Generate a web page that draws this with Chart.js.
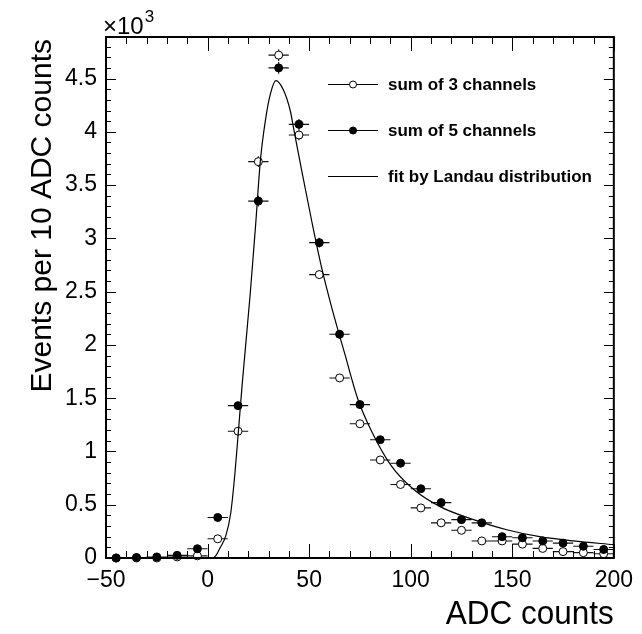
<!DOCTYPE html>
<html>
<head>
<meta charset="utf-8">
<script src="https://cdn.jsdelivr.net/npm/chart.js@4/dist/chart.umd.min.js"></script>
<style>
  html, body { margin: 0; padding: 0; background: #fff; }
  #wrap { width: 642px; height: 634px; }
</style>
</head>
<body>
<div id="wrap"><canvas id="chart" width="642" height="634"></canvas></div>
<script>
// bin centres (ADC counts), bin width 10
const binCenters = [-45, -35, -25, -15, -5, 5, 15, 25, 35, 45, 55, 65, 75, 85, 95,
  105, 115, 125, 135, 145, 155, 165, 175, 185, 195];
const binHalfWidth = 5;

// events per bin, in units of 10^3
const sum3 = [0.0, 0.0, 0.0, 0.01, 0.02, 0.18, 1.19, 3.72, 4.72, 3.97, 2.66, 1.69, 1.26,
  0.92, 0.69, 0.47, 0.33, 0.26, 0.16, 0.16, 0.13, 0.09, 0.06, 0.05, 0.04];
const sum5 = [0.0, 0.005, 0.01, 0.025, 0.087, 0.38, 1.43, 3.35, 4.60, 4.07, 2.96, 2.10, 1.44,
  1.11, 0.89, 0.65, 0.52, 0.36, 0.33, 0.20, 0.19, 0.16, 0.14, 0.11, 0.08];
const sum3Err = [0, 0, 0, 0.01, 0.01, 0.015, 0.035, 0.05, 0.055, 0.05, 0.04, 0.035, 0.03,
  0.03, 0.025, 0.02, 0.02, 0.015, 0.015, 0.015, 0.01, 0.01, 0.01, 0.01, 0.01];
const sum5Err = [0, 0.005, 0.01, 0.01, 0.01, 0.02, 0.035, 0.05, 0.055, 0.05, 0.045, 0.04, 0.035,
  0.03, 0.03, 0.025, 0.02, 0.02, 0.02, 0.015, 0.015, 0.01, 0.01, 0.01, 0.01];

// Landau fit curve
const fitX = [0, 2, 4, 6, 9, 11.4, 13.5, 15.1, 17, 21, 23.6, 26, 28.5, 31, 33.6, 37.4, 40.7,
  42.3, 46.3, 51.2, 56.1, 61, 67.5, 74, 80.5, 90.3, 101.7, 114.7, 131, 147.3, 163.5, 180, 200];
const fitY = [0, 0, 0.02, 0.09, 0.21, 0.42, 0.80, 1.17, 1.62, 2.48, 3.11, 3.73, 4.11, 4.36, 4.48,
  4.39, 4.20, 4.04, 3.64, 3.17, 2.73, 2.36, 1.92, 1.49, 1.20, 0.87, 0.64, 0.48, 0.36, 0.265,
  0.20, 0.16, 0.125];

const xTicks = [-50, 0, 50, 100, 150, 200];
const yTicks = [0, 0.5, 1, 1.5, 2, 2.5, 3, 3.5, 4, 4.5];

const legendLabels = ['sum of 3 channels', 'sum of 5 channels', 'fit by Landau distribution'];
const yTitle = 'Events per 10 ADC counts';
const xTitle = 'ADC counts';

const FONT = "'Liberation Sans', Arial, Helvetica, sans-serif";

const toPoints = (xs, ys) => xs.map((x, i) => ({ x: x, y: ys[i] }));

const errorBars = {
  id: 'errorBars',
  beforeDatasetsDraw(chart) {
    const ctx = chart.ctx;
    const xs = chart.scales.x, ys = chart.scales.y;
    const sets = [[sum5, sum5Err], [sum3, sum3Err]];
    ctx.save();
    ctx.strokeStyle = '#111';
    ctx.lineWidth = 1.1;
    sets.forEach(([vals, errs]) => {
      binCenters.forEach((c, i) => {
        const py = ys.getPixelForValue(vals[i]);
        const px = xs.getPixelForValue(c);
        ctx.beginPath();
        ctx.moveTo(xs.getPixelForValue(c - binHalfWidth), py);
        ctx.lineTo(xs.getPixelForValue(c + binHalfWidth), py);
        ctx.moveTo(px, ys.getPixelForValue(vals[i] - errs[i]));
        ctx.lineTo(px, ys.getPixelForValue(vals[i] + errs[i]));
        ctx.stroke();
      });
    });
    ctx.restore();
  }
};

const rootFrame = {
  id: 'rootFrame',
  afterDraw(chart) {
    const ctx = chart.ctx;
    const a = chart.chartArea;
    const xs = chart.scales.x, ys = chart.scales.y;
    ctx.save();
    ctx.strokeStyle = '#000';

    // ticks, pointing inward, on all four sides
    ctx.lineWidth = 1;
    ctx.beginPath();
    for (let v = -50; v <= 200; v += 10) {
      const px = Math.round(xs.getPixelForValue(v)) + 0.5;
      const len = (v % 50 === 0) ? 14 : 7;
      ctx.moveTo(px, a.bottom); ctx.lineTo(px, a.bottom - len);
      ctx.moveTo(px, a.top); ctx.lineTo(px, a.top + len);
    }
    for (let k = 0; k <= 48; k++) {
      const py = Math.round(ys.getPixelForValue(k / 10)) + 0.5;
      const len = (k % 5 === 0) ? 10 : 5;
      ctx.moveTo(a.left, py); ctx.lineTo(a.left + len, py);
      ctx.moveTo(a.right, py); ctx.lineTo(a.right - len, py);
    }
    ctx.stroke();

    // frame
    ctx.lineWidth = 2;
    ctx.strokeRect(a.left, a.top, a.right - a.left, a.bottom - a.top);

    // x10^3 multiplier
    ctx.fillStyle = '#000';
    ctx.textBaseline = 'alphabetic';
    ctx.textAlign = 'left';
    ctx.font = '24px ' + FONT;
    ctx.fillText('\u00d710', 103, 34);
    const w = ctx.measureText('\u00d710').width;
    ctx.font = '17px ' + FONT;
    ctx.fillText('3', 103 + w + 1, 22);

    // axis titles
    ctx.save();
    ctx.font = '31.5px ' + FONT;
    ctx.textAlign = 'right';
    ctx.translate(a.right, 624);
    ctx.scale(1, 1.08);
    ctx.fillText(xTitle, 0, 0);
    ctx.restore();

    ctx.save();
    ctx.font = '30px ' + FONT;
    ctx.textAlign = 'right';
    ctx.translate(51, a.top);
    ctx.rotate(-Math.PI / 2);
    ctx.textBaseline = 'alphabetic';
    ctx.fillText(yTitle, -2, 0);
    ctx.restore();

    // legend
    const rows = [84, 130, 176];
    ctx.font = 'bold 17px ' + FONT;
    ctx.textAlign = 'left';
    ctx.textBaseline = 'middle';
    rows.forEach((ry, i) => {
      ctx.lineWidth = 1;
      ctx.strokeStyle = '#000';
      ctx.beginPath();
      ctx.moveTo(328, ry + 0.5); ctx.lineTo(378, ry + 0.5);
      ctx.stroke();
      if (i < 2) {
        ctx.beginPath();
        ctx.arc(353, ry + 0.5, 3.5, 0, Math.PI * 2);
        ctx.fillStyle = i === 0 ? '#fff' : '#000';
        ctx.fill();
        ctx.stroke();
      }
      ctx.fillStyle = '#000';
      ctx.fillText(legendLabels[i], 388, ry + 1);
    });
    ctx.restore();
  }
};

const ctx = document.getElementById('chart').getContext('2d');
new Chart(ctx, {
  type: 'scatter',
  data: {
    datasets: [
      {
        label: legendLabels[2],
        data: toPoints(fitX, fitY),
        showLine: true,
        borderColor: '#000',
        borderWidth: 1.2,
        pointRadius: 0,
        cubicInterpolationMode: 'monotone',
        fill: false
      },
      {
        label: legendLabels[1],
        data: toPoints(binCenters, sum5),
        pointStyle: 'circle',
        pointRadius: 4,
        pointBackgroundColor: '#000',
        pointBorderColor: '#000',
        pointBorderWidth: 1
      },
      {
        label: legendLabels[0],
        data: toPoints(binCenters, sum3),
        pointStyle: 'circle',
        pointRadius: 4,
        pointBackgroundColor: '#fff',
        pointBorderColor: '#000',
        pointBorderWidth: 1
      }
    ]
  },
  options: {
    responsive: false,
    animation: false,
    clip: false,
    layout: { padding: { top: 37, right: 24, left: 0, bottom: 0 } },
    plugins: { legend: { display: false }, tooltip: { enabled: false } },
    scales: {
      x: {
        type: 'linear',
        min: -50, max: 200,
        afterFit: (s) => { s.height = 76; },
        afterBuildTicks: (s) => { s.ticks = xTicks.map(v => ({ value: v })); },
        grid: { display: false, drawTicks: false },
        border: { display: false },
        ticks: {
          padding: 9,
          color: '#000',
          font: { family: FONT, size: 23 },
          maxRotation: 0,
          callback: (v) => String(v).replace('-', '\u2212')
        }
      },
      y: {
        type: 'linear',
        min: 0, max: 4.89,
        afterFit: (s) => { s.width = 106; },
        afterBuildTicks: (s) => { s.ticks = yTicks.map(v => ({ value: v })); },
        grid: { display: false, drawTicks: false },
        border: { display: false },
        ticks: {
          padding: 9,
          color: '#000',
          font: { family: FONT, size: 23 },
          callback: (v) => String(v)
        }
      }
    }
  },
  plugins: [errorBars, rootFrame]
});
</script>
</body>
</html>
